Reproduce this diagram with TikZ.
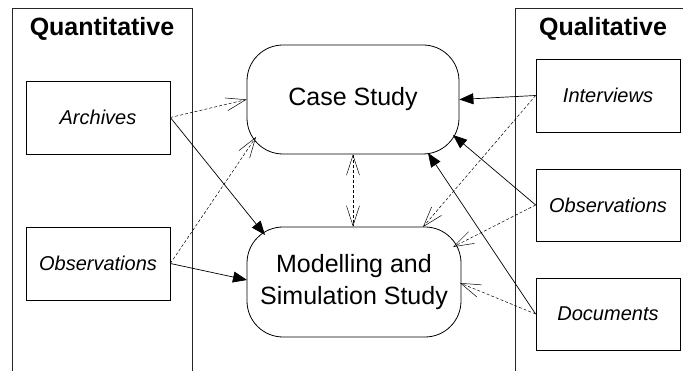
\documentclass[tikz,border=0pt]{standalone}
\usepackage{fontspec}
\setmainfont{Liberation Sans}
\usetikzlibrary{arrows.meta,calc}
\begin{document}
\begin{tikzpicture}[x=1pt,y=-1pt,
  colline/.style={line width=0.8pt,draw=black!85},
  src/.style={draw,line width=0.7pt,minimum width=144pt,minimum height=73pt,inner sep=0pt,
    font=\fontsize{20}{24}\selectfont\itshape},
  study/.style={draw,line width=0.8pt,rounded corners=36pt,inner sep=0pt,align=center,
    font=\fontsize{25}{32}\selectfont},
  title/.style={font=\fontsize{25}{30}\selectfont\bfseries,inner sep=0pt},
  solidarr/.style={line width=0.7pt,-{Triangle[length=14pt,width=11pt]}},
  dasharr/.style={line width=0.5pt,dash pattern=on 3pt off 2pt,-{Straight Barb[length=20pt,width=13pt]}},
  dashboth/.style={line width=0.5pt,dash pattern=on 3pt off 2pt,{Straight Barb[length=20pt,width=13pt]}-{Straight Barb[length=20pt,width=13pt]}}
]
\useasboundingbox (0,0) rectangle (683,371);
% columns
\draw[colline] (12,371) -- (12,8) -- (192,8) -- (192,371);
\draw[colline] (515,371) -- (515,8) -- (683,8);
\node[title] (tq) at (102,29) {Quantitative};
\node[title] (tl) at (603,29) {Qualitative};
% source boxes
\node[src] (arch) at (98,117.5) {Archives};
\node[src] (obsL) at (98,263.5) {Observations};
\node[src] (intv) at (608,95.5) {Interviews};
\node[src,minimum height=72pt] (obsR) at (608,205) {Observations};
\node[src,minimum height=72pt] (docs) at (608,314) {Documents};
% studies
\node[study,minimum width=212pt,minimum height=109pt] (cs) at (353,99.5) {Case Study};
\node[study,minimum width=214pt,minimum height=110pt] (ms) at (354,282) {Modelling and\\Simulation Study};
% target points
\coordinate (msA) at ($(ms.center)+(-89,-47)$);
\coordinate (csO) at ($(cs.center)+(-97,37.5)$);
\coordinate (msO) at ($(ms.center)+(-107,-2)$);
\coordinate (msI) at ($(ms.center)+(69,-55)$);
\coordinate (csR) at ($(cs.center)+(100,35.5)$);
\coordinate (msR) at ($(ms.center)+(99,-35)$);
\coordinate (csD) at ($(cs.center)+(75,53.5)$);
\coordinate (msD) at ($(ms.center)+(106,1)$);
% connectors
\draw[dasharr] (arch.east) -- (cs.west);
\draw[solidarr] (arch.east) -- (msA);
\draw[dasharr] (obsL.east) -- (csO);
\draw[solidarr] (obsL.east) -- (msO);
\draw[dashboth] (cs.south) -- (cs.south |- ms.north);
\draw[solidarr] (intv.west) -- (cs.east);
\draw[dasharr] (intv.west) -- (msI);
\draw[solidarr] (obsR.west) -- (csR);
\draw[dasharr] (obsR.west) -- (msR);
\draw[solidarr] (docs.west) -- (csD);
\draw[dasharr] (docs.west) -- (msD);
\end{tikzpicture}
\end{document}
